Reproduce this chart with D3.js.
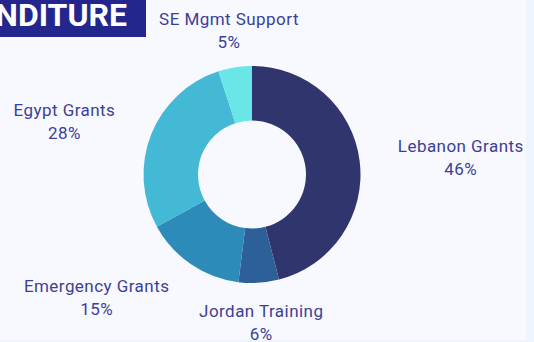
<!DOCTYPE html>
<html>
<head>
<meta charset="utf-8">
<script src="https://cdn.jsdelivr.net/npm/d3@7/dist/d3.min.js"></script>
<style>
  html, body { margin: 0; padding: 0; background: #eef5fd; }
  svg { display: block; }
</style>
</head>
<body>
<svg id="chart" width="534" height="342"></svg>
<script>
// Expenditure breakdown (percent of total)
const categories = ["Lebanon Grants", "Jordan Training", "Emergency Grants", "Egypt Grants", "SE Mgmt Support"];
const shares = [46, 6, 15, 28, 5];
const sliceColors = ["#31356e", "#2d5f99", "#2c8bb9", "#43b9d6", "#6ae6e8"];
const titleText = "EXPENDITURE";

const width = 534, height = 342;
const svg = d3.select("#chart");

// panel background
svg.append("rect")
  .attr("x", 0).attr("y", 0)
  .attr("width", 526).attr("height", 340)
  .attr("fill", "#f8f9fe");

// title banner (its left part runs past the panel edge)
svg.append("rect")
  .attr("x", 0).attr("y", 0)
  .attr("width", 146).attr("height", 37)
  .attr("fill", "#23268c");
svg.append("text")
  .attr("x", 127).attr("y", 26)
  .attr("text-anchor", "end")
  .attr("fill", "#ffffff")
  .attr("font-family", "Roboto, sans-serif")
  .attr("font-weight", 700)
  .attr("font-size", 32)
  .text(titleText);

const cx = 252, cy = 174.5;
const outerR = 108.5, innerR = 54, labelR = 147;

const data = categories.map((c, i) => ({ name: c, value: shares[i], color: sliceColors[i] }));
const pie = d3.pie().value(d => d.value).sort(null);
const arcs = pie(data);
const arc = d3.arc().innerRadius(innerR).outerRadius(outerR);

const g = svg.append("g").attr("transform", `translate(${cx},${cy})`);
g.selectAll("path")
  .data(arcs)
  .join("path")
  .attr("d", arc)
  .attr("fill", d => d.data.color);

// outside labels: centred two-line block (name, percentage) whose
// near edge sits on a ring just outside the donut
g.selectAll("text.lbl")
  .data(arcs)
  .join("text")
  .attr("class", "lbl")
  .attr("fill", "#3b3f98")
  .attr("font-family", "Roboto, sans-serif")
  .attr("font-size", 17)
  .attr("letter-spacing", 0.45)
  .attr("text-anchor", "middle")
  .each(function (d) {
    const a = (d.startAngle + d.endAngle) / 2;
    const sx = Math.sin(a), sy = -Math.cos(a);
    const px = sx * labelR, py = sy * labelR;
    const t = d3.select(this);
    const name = t.append("tspan").attr("y", py - 4).text(d.data.name);
    const pct = t.append("tspan").attr("y", py + 19).text(d3.format("d")(d.data.value) + "%");
    const w = name.node().getComputedTextLength();
    const side = Math.abs(sx) >= 0.5 ? Math.sign(sx) : 0;
    const x = px + side * w / 2;
    name.attr("x", x);
    pct.attr("x", x);
  });
</script>
</body>
</html>
